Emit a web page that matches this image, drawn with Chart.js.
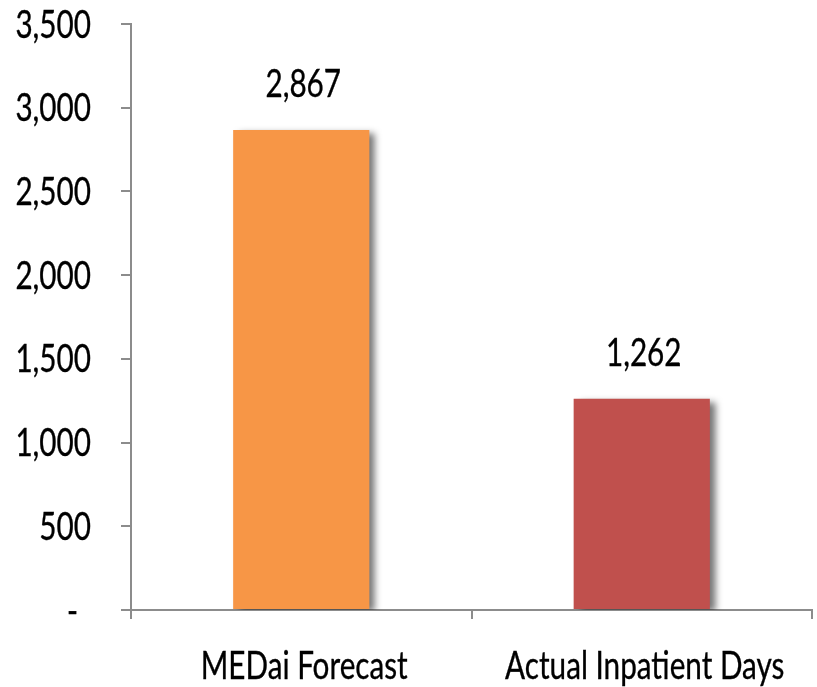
<!DOCTYPE html>
<html>
<head>
<meta charset="utf-8">
<script src="https://cdn.jsdelivr.net/npm/chart.js@4"></script>
<style>
  html, body { margin: 0; padding: 0; background: #ffffff; }
  #chart { display: block; }
</style>
</head>
<body>
<canvas id="chart" width="817" height="687"></canvas>
<script>
// Inpatient days: forecast vs. actual
const categories = ['MEDai Forecast', 'Actual Inpatient Days'];
const inpatientDays = [2867, 1262];
const barColors = ['#F79646', '#C0504D'];
const yTickMax = 3500;
const yTickStep = 500;

const FONT_FAMILY = 'Lato, "Open Sans", "Noto Sans", sans-serif';
const FONT_SIZE = 38;
const CAP = 27;          // approximate cap height of the label font, px
const AXIS_GREY = '#8c8c8c';

// Accounting-style number format: zero shown as a dash
const fmt = v => v === 0 ? '-' : v.toLocaleString('en-US');

// Labels use a horizontally condensed face
let condense = null;
function textScale(ctx) {
  if (condense === null) {
    ctx.save();
    ctx.font = FONT_SIZE + 'px ' + FONT_FAMILY;
    condense = 207 / ctx.measureText('MEDai Forecast').width;
    ctx.restore();
  }
  return condense;
}
function drawText(ctx, text, x, y, align) {
  const sx = textScale(ctx);
  ctx.save();
  ctx.font = FONT_SIZE + 'px ' + FONT_FAMILY;
  ctx.fillStyle = '#000000';
  ctx.strokeStyle = '#000000';
  ctx.lineWidth = 0.35;
  ctx.textAlign = align;
  ctx.textBaseline = 'alphabetic';
  ctx.translate(x, y);
  ctx.scale(sx, 1);
  ctx.fillText(text, 0, 0);
  ctx.strokeText(text, 0, 0);
  ctx.restore();
}

// Soft drop shadow to the right of each bar
const barShadow = {
  id: 'barShadow',
  beforeDatasetsDraw(chart) {
    const ctx = chart.ctx;
    ctx.save();
    ctx.shadowColor = 'rgba(0,0,0,0.55)';
    ctx.shadowBlur = 7;
    ctx.shadowOffsetX = 6;
    ctx.shadowOffsetY = 3;
  },
  afterDatasetsDraw(chart) {
    chart.ctx.restore();
  }
};

// Axis tick labels and value labels
const labelText = {
  id: 'labelText',
  afterDraw(chart) {
    const ctx = chart.ctx;
    const y = chart.scales.y;
    const x = chart.scales.x;
    // y-axis ticks
    y.ticks.forEach(t => {
      const py = y.getPixelForValue(t.value);
      const txt = fmt(t.value);
      const right = t.value === 0 ? y.right - 53 : y.right - 40;
      drawText(ctx, txt, right, py + CAP / 2, 'right');
    });
    // category labels
    categories.forEach((c, i) => {
      drawText(ctx, c, x.getPixelForValue(i) + 3, x.top + 69, 'center');
    });
    // values above bars
    chart.getDatasetMeta(0).data.forEach((bar, i) => {
      drawText(ctx, fmt(inpatientDays[i]), bar.x + 2, bar.y - 33, 'center');
    });
  }
};

new Chart(document.getElementById('chart'), {
  type: 'bar',
  data: {
    labels: categories,
    datasets: [{
      data: inpatientDays,
      backgroundColor: barColors,
      borderWidth: 0,
      barPercentage: 0.4,
      categoryPercentage: 1.0
    }]
  },
  options: {
    responsive: false,
    devicePixelRatio: 1,
    animation: false,
    layout: { padding: { top: 24, right: 5, left: 0, bottom: 0 } },
    plugins: {
      legend: { display: false },
      tooltip: { enabled: false }
    },
    scales: {
      y: {
        min: 0,
        max: yTickMax,
        afterFit(scale) { scale.width = 131; },
        ticks: {
          stepSize: yTickStep,
          display: false
        },
        grid: {
          drawOnChartArea: false,
          drawTicks: true,
          tickLength: 10,
          color: AXIS_GREY,
          lineWidth: 2
        },
        border: { color: AXIS_GREY, width: 2 }
      },
      x: {
        afterFit(scale) { scale.height = 77; },
        ticks: { display: false },
        grid: {
          offset: true,
          drawOnChartArea: false,
          drawTicks: true,
          tickLength: 9,
          color: AXIS_GREY,
          lineWidth: 2
        },
        border: { color: AXIS_GREY, width: 2 }
      }
    }
  },
  plugins: [barShadow, labelText]
});
</script>
</body>
</html>
